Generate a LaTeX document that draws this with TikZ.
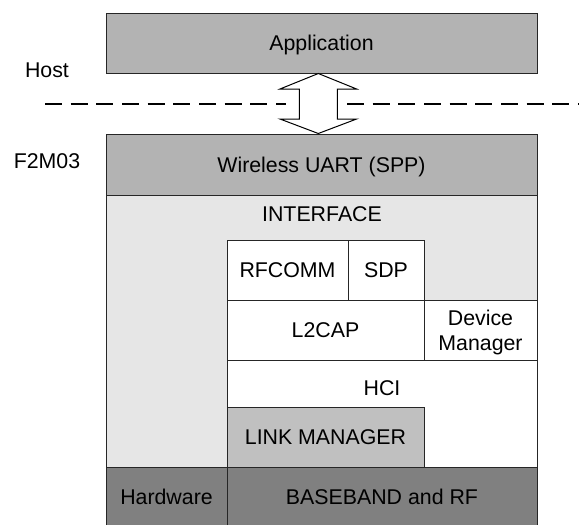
\documentclass[tikz,border=0pt]{standalone}
\usepackage{fontspec}
\setmainfont{Liberation Sans}
\usetikzlibrary{calc}
\definecolor{midgray}{HTML}{B3B3B3}
\definecolor{lightgray}{HTML}{E6E6E6}
\definecolor{lmgray}{HTML}{C0C0C0}
\definecolor{darkgray}{HTML}{808080}
\definecolor{edge}{HTML}{262626}
\begin{document}
\begin{tikzpicture}[x=0.75pt,y=-0.75pt,
  txt/.style={font=\fontsize{16}{18.75}\selectfont, inner sep=0pt, outer sep=0pt},
  blk/.style={txt, draw=edge, line width=0.75pt, rectangle, text height=11.46pt, text depth=0pt},
  lbl/.style={txt, text height=11.46pt, text depth=0pt},
  divider/.style={line width=1.2pt, dash pattern=on 12.75pt off 6.5pt},
  arrowshape/.style={draw=black, line width=0.75pt, fill=white, line join=miter}]
\useasboundingbox (0,0) rectangle (579,525);
\clip (0,0) rectangle (579,525);
% boxes
\node[blk, fill=midgray, minimum width=323.25pt, minimum height=45pt] (app) at (321.5,43) {Application};
\node[blk, fill=midgray, minimum width=323.25pt, minimum height=45.75pt] (wu) at (321.5,164.5) {Wireless UART (SPP)};
\node[blk, fill=lightgray, minimum width=323.25pt, minimum height=204pt] (intf) at (321.5,331) {};
\node[lbl] (intfl) at (322,214.2) {INTERFACE};
\node[blk, fill=white, minimum width=90.75pt, minimum height=45pt] (rf) at (287.5,270) {RFCOMM};
\node[blk, fill=white, minimum width=57pt, minimum height=45pt] (sdp) at (386,270) {SDP};
\node[blk, fill=white, minimum width=147.75pt, minimum height=45pt] (l2) at (325.5,330) {L2CAP};
\node[blk, fill=white, minimum width=84.75pt, minimum height=45pt, align=center, text height=, text depth=0pt] (dm) at (480.5,330) {Device\\Manager};
\node[blk, fill=white, minimum width=232.5pt, minimum height=80.25pt] (hci) at (382,413.5) {};
\node[lbl] (hcil) at (382,387.5) {HCI};
\node[blk, fill=lmgray, minimum width=147.75pt, minimum height=45pt] (lm) at (325.5,437) {LINK MANAGER};
\node[blk, fill=darkgray, minimum width=90.75pt, minimum height=44.25pt] (hw) at (166.5,496.5) {Hardware};
\node[blk, fill=darkgray, minimum width=232.5pt, minimum height=44.25pt] (bb) at (382,496.5) {BASEBAND and RF};
% side labels
\node[txt, anchor=base] (host) at (47,77) {Host};
\node[txt, anchor=base] (f2m) at (47,168) {F2M03};
% dashed divider
\coordinate (dl1) at (45,104);
\coordinate (dl2) at (286,104);
\coordinate (dr1) at (347,104);
\coordinate (dr2) at (579,104);
\draw[divider] (dl1) -- (dl2);
\draw[divider] (dr1) -- (dr2);
% double arrow
\coordinate (at) at (318.3,73.5);
\coordinate (ab) at (318.3,133.5);
\draw[arrowshape] (at) -- ++(38.3,15.5) -- ++(-19.3,0) -- ++(0,30) -- ++(19.3,0) -- (ab)
  -- ++(-38.3,-14.5) -- ++(19.3,0) -- ++(0,-30) -- ++(-19.3,0) -- cycle;
\end{tikzpicture}
\end{document}
